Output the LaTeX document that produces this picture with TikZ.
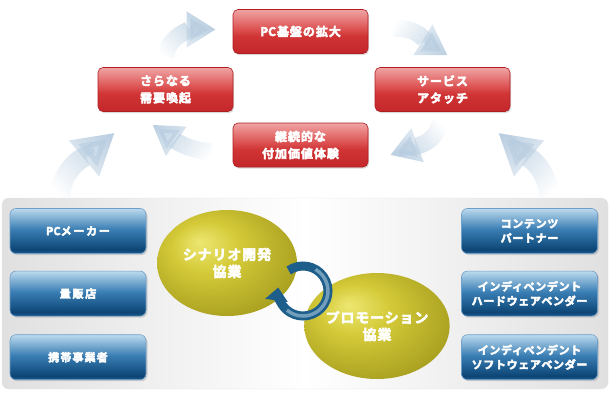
\documentclass[tikz,border=0pt]{standalone}
\usepackage{fontspec}
\newfontfamily\jpfont{Noto Sans CJK JP Bold}[LetterSpace=6]
\usetikzlibrary{shapes.geometric, arrows.meta, positioning, shadows, fadings, backgrounds}

\definecolor{redL}{HTML}{F0A4A4}
\definecolor{redL2}{HTML}{DB4E4E}
\definecolor{redM}{HTML}{D03434}
\definecolor{redD}{HTML}{C4272B}
\definecolor{redB}{HTML}{B01E22}
\definecolor{blueL}{HTML}{BCDAEE}
\definecolor{blueM}{HTML}{3A7EB4}
\definecolor{blueD}{HTML}{0C4575}
\definecolor{blueE}{HTML}{1F5F90}
\definecolor{blueB}{HTML}{6E9FC9}
\definecolor{ylwL}{HTML}{EDE772}
\definecolor{ylwM}{HTML}{D4CA38}
\definecolor{ylwD}{HTML}{9D941A}
\definecolor{ringD}{HTML}{1D5E8A}
\definecolor{ringL}{HTML}{A9CBDD}
\definecolor{arrowblue}{HTML}{B8CDE0}
\definecolor{panelG}{HTML}{E0E0E0}
\definecolor{panelB}{HTML}{E4E4E4}

\pgfdeclareverticalshading{redgloss}{100bp}{color(0bp)=(redD); color(25bp)=(redD); color(45bp)=(redM); color(52bp)=(redL2); color(75bp)=(redL); color(100bp)=(redL)}
\pgfdeclareverticalshading{bluegloss}{100bp}{color(0bp)=(blueE); color(25bp)=(blueE); color(29bp)=(blueD); color(52bp)=(blueM); color(75bp)=(blueL); color(100bp)=(blueL)}
\pgfdeclareradialshading{yellowball}{\pgfpoint{-10bp}{10bp}}{color(0bp)=(ylwL); color(12bp)=(ylwM); color(36bp)=(ylwD); color(50bp)=(ylwD)}
\tikzfading[name=fadein, left color=transparent!100, right color=transparent!0]

% heavier white lettering
\newcommand\heavyon{\special{pdf:literal direct 1 1 1 RG 0.45 w 2 Tr}}
\newcommand\heavyoff{\special{pdf:literal direct 0 Tr}}

\begin{document}
\begin{tikzpicture}[x=1pt, y=1pt,
        heavy/.style={execute at begin node=\heavyon, execute at end node=\heavyoff},
        redbox/.style={heavy, rectangle, rounded corners=5pt, draw=redB, line width=0.6pt, shade, shading=redgloss, minimum width=135pt, minimum height=44pt, align=center, text=white, font=\jpfont\addfontfeature{LetterSpace=8}\fontsize{12}{17}\selectfont, drop shadow={shadow xshift=1pt, shadow yshift=-1.5pt, opacity=0.3}},
        bluebox/.style={heavy, rectangle, rounded corners=6pt, draw=blueB, line width=0.6pt, shade, shading=bluegloss, minimum width=136pt, minimum height=45pt, align=center, text=white, font=\jpfont\fontsize{11}{14.5}\selectfont, drop shadow={shadow xshift=1.5pt, shadow yshift=-1.5pt, opacity=0.3}},
        ellipsebox/.style={heavy, ellipse, shade, shading=yellowball, minimum width=140pt, minimum height=106pt, inner sep=0pt, align=center, text=white, font=\jpfont\fontsize{14}{17}\selectfont},
        bgarrow/.style={line width=17pt, draw=arrowblue, -{Triangle[width=34pt, length=29pt]}},
        bigarrow/.style={line width=20pt, draw=arrowblue, -{Triangle[width=44pt, length=40pt]}},
        ring/.style={line width=9pt, draw=ringD, -{Triangle[width=22pt, length=13pt]}}
    ]
    \useasboundingbox (0,0) rectangle (610,400);

    % Cycle
    \node[redbox] (base) at (300.5,368.5) {{\addfontfeature{LetterSpace=18}P}C基盤の拡大};
    \node[redbox] (attach) at (442.5,310.5) {サービス\\アタッチ};
    \node[redbox] (value) at (300.5,255) {継続的な\\付加価値体験};
    \node[redbox] (demand) at (165.5,310.5) {さらなる\\需要喚起};

    % Partners
    \node[bluebox] (maker) at (78,169) {{\addfontfeature{LetterSpace=22}P}{\addfontfeature{LetterSpace=14}C}{\addfontfeature{LetterSpace=16}メーカー}};
    \node[bluebox, below=17pt of maker] (retail) {\addfontfeature{LetterSpace=16}量販店};
    \node[bluebox, below=18pt of retail] (carrier) {\addfontfeature{LetterSpace=10}携帯事業者};
    \node[bluebox] (content) at (529.5,169) {コンテンツ\\パートナー};
    \node[bluebox, below=17pt of content] (hardware) {インディペンデント\\ハードウェアベンダー};
    \node[bluebox, below=18pt of hardware] (software) {インディペンデント\\ソフトウェアベンダー};

    % Collaboration
    \node[ellipsebox] (scenario) at (227,137) {シナリオ開発\\協業};
    \node[ellipsebox] (promo) at (377,74) {プロモーション\\協業};
    \coordinate (ringc) at (303,109);
    \draw[ring] ([shift={(125:25)}]ringc) arc[start angle=125, end angle=-188, radius=25];
    \draw[ringL, line width=3.5pt, opacity=0.6] ([shift={(60:25)}]ringc) arc[start angle=60, end angle=-130, radius=25];

    \begin{scope}[on background layer]
    % Arrows
    \draw[bgarrow, path fading=fadein, fading angle=29] ([yshift=10pt]demand.north) to[out=85, in=180] ([xshift=-17pt, yshift=2pt]base.west);
    \draw[bgarrow, path fading=fadein, fading angle=-26] ([xshift=25pt, yshift=3pt]base.east) to[out=5, in=148] ([xshift=5pt, yshift=12pt]attach.north);
    \draw[bgarrow, path fading=fadein, fading angle=213] ([xshift=-2pt, yshift=-11pt]attach.south) to[out=255, in=20] ([xshift=22pt, yshift=-10pt]value.east);
    \draw[bgarrow, path fading=fadein, fading angle=156] ([xshift=-21pt, yshift=-7pt]value.west) to[out=175, in=-35] ([xshift=-13pt, yshift=-13pt]demand.south);
    \draw[bigarrow, path fading=fadein, fading angle=50] ([xshift=-18pt, yshift=10pt]maker.north) to[out=88, in=220] ([xshift=17pt, yshift=-21pt]demand.south west);
    \draw[bigarrow, path fading=fadein, fading angle=130] ([xshift=20pt, yshift=10pt]content.north) to[out=92, in=-40] ([xshift=-12pt, yshift=-21pt]attach.south east);
    % Panel
    \shade[rounded corners=7pt, left color=panelG, right color=panelG, middle color=white] (2,11) rectangle (608,202);
    \draw[panelB, rounded corners=7pt] (2,11) rectangle (608,202);
    \end{scope}
\end{tikzpicture}
\end{document}
